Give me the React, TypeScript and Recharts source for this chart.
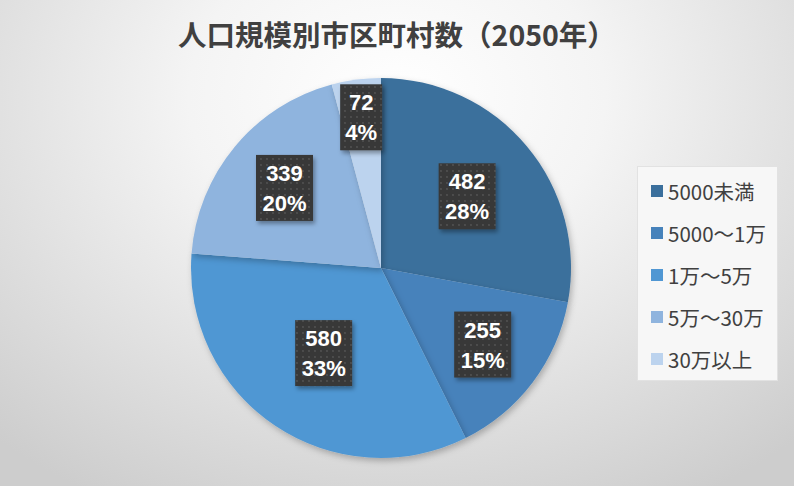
import { PieChart, Pie, Cell, Legend } from 'recharts';

const categories = ['5000未満', '5000～1万', '1万～5万', '5万～30万', '30万以上'];
const counts = [482, 255, 580, 339, 72];
const colors = ['#3b6f9c', '#4682bb', '#5097d3', '#8fb4de', '#bcd3ee'];
// how far out each data label sits, as a share of the radius
const labelRadius = [0.59, 0.67, 0.54, 0.66, 0.8];

const data = categories.map((name, i) => ({ name, value: counts[i] }));

// whole percents that add up to 100 (largest remainder), like the source shows
const total = counts.reduce((a, b) => a + b, 0);
const rawPct = counts.map((c) => (c / total) * 100);
const pctLabels = rawPct.map((p) => Math.floor(p));
const left = 100 - pctLabels.reduce((a, b) => a + b, 0);
rawPct
  .map((p, i) => ({ i, rem: p - Math.floor(p) }))
  .sort((a, b) => b.rem - a.rem)
  .slice(0, left)
  .forEach(({ i }) => (pctLabels[i] += 1));

const RADIAN = Math.PI / 180;
const labelFont = '"Liberation Sans", Arial, sans-serif';
const cjkFont = '"Noto Sans CJK JP", "Noto Sans", sans-serif';

function renderLabel(props: any) {
  const { cx, cy, midAngle, outerRadius, value, index } = props;
  const r = outerRadius * labelRadius[index];
  const x = cx + r * Math.cos(-midAngle * RADIAN);
  const y = cy + r * Math.sin(-midAngle * RADIAN);
  const pct = `${pctLabels[index]}%`;
  const chars = Math.max(String(value).length, pct.length);
  const w = chars * 15 + 12;
  const h = 66;
  return (
    <g>
      <rect
        x={x - w / 2}
        y={y - h / 2}
        width={w}
        height={h}
        fill="url(#dots)"
        filter="url(#boxShadow)"
      />
      <text
        x={x}
        y={y - 7}
        textAnchor="middle"
        fill="#fff"
        fontFamily={labelFont}
        fontWeight="bold"
        fontSize={22}
      >
        {value}
      </text>
      <text
        x={x}
        y={y + 23}
        textAnchor="middle"
        fill="#fff"
        fontFamily={labelFont}
        fontWeight="bold"
        fontSize={22}
      >
        {pct}
      </text>
    </g>
  );
}

function LegendBox() {
  return (
    <div
      style={{
        width: 141,
        height: 215,
        background: '#f7f7f7',
        border: '1px solid #e2e2e2',
        boxSizing: 'border-box',
        paddingTop: 3,
      }}
    >
      {categories.map((name, i) => (
        <div
          key={name}
          style={{
            display: 'flex',
            alignItems: 'center',
            height: 42,
            paddingLeft: 13,
            fontFamily: cjkFont,
            fontSize: 20.5,
            color: '#404040',
            whiteSpace: 'nowrap',
          }}
        >
          <span
            style={{
              display: 'inline-block',
              width: 12,
              height: 12,
              background: colors[i],
              marginRight: 5,
              flexShrink: 0,
            }}
          />
          {name}
        </div>
      ))}
    </div>
  );
}

export default function App() {
  return (
    <div
      style={{
        position: 'absolute',
        left: 0,
        top: 0,
        width: 794,
        height: 486,
        background:
          'radial-gradient(ellipse 75% 95% at 50% 20%, #ffffff 0%, #f4f4f4 35%, #dcdcdc 75%, #cdcdcd 100%)',
      }}
    >
      <div
        style={{
          position: 'absolute',
          left: 0,
          top: 13,
          width: 794,
          textAlign: 'center',
          fontFamily: cjkFont,
          fontWeight: 'bold',
          fontSize: 28.5,
          color: '#404040',
        }}
      >
        人口規模別市区町村数（2050年）
      </div>
      <PieChart width={794} height={486} margin={{ top: 0, right: 0, bottom: 0, left: 0 }}>
        <defs>
          <pattern id="dots" width="6" height="6" patternUnits="userSpaceOnUse">
            <rect width="6" height="6" fill="#383838" />
            <circle cx="3" cy="3" r="0.9" fill="#565656" />
          </pattern>
          <filter id="boxShadow" x="-20%" y="-20%" width="150%" height="150%">
            <feDropShadow dx="2" dy="3" stdDeviation="2" floodColor="#000" floodOpacity="0.35" />
          </filter>
          <filter id="sliceShadow" x="-20%" y="-20%" width="150%" height="150%">
            <feDropShadow dx="2" dy="3" stdDeviation="3" floodColor="#000" floodOpacity="0.25" />
          </filter>
        </defs>
        <Pie
          data={data}
          dataKey="value"
          nameKey="name"
          cx={381}
          cy={268}
          outerRadius={190}
          startAngle={90}
          endAngle={-270}
          stroke="none"
          label={renderLabel}
          labelLine={false}
          isAnimationActive={false}
        >
          {data.map((d, i) => (
            <Cell key={d.name} fill={colors[i]} filter="url(#sliceShadow)" />
          ))}
        </Pie>
        <Legend
          layout="vertical"
          align="right"
          verticalAlign="top"
          content={<LegendBox />}
          wrapperStyle={{ left: 637, top: 166, width: 141 }}
        />
      </PieChart>
    </div>
  );
}
